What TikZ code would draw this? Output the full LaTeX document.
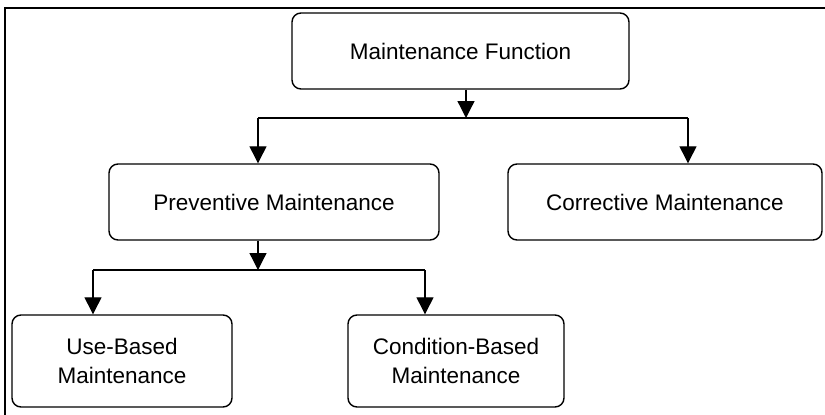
\documentclass[tikz,border=0pt]{standalone}
\usepackage{fontspec}
\setmainfont{Liberation Sans}
\usetikzlibrary{arrows.meta}

\begin{document}
\begin{tikzpicture}[x=1pt,y=-1pt,
  box/.style={draw,line width=1.4pt,rounded corners=9pt,align=center,inner sep=0pt,
    font=\fontsize{22.5}{29}\selectfont},
  arr/.style={line width=1.3pt,-{Triangle[length=17pt,width=17pt]}}]
  \useasboundingbox (0,0) rectangle (825,415);
  \draw[line width=2pt] (5,415) -- (5,8) -- (825,8);
  \node[box,minimum width=337pt,minimum height=76pt] (func) at (460.5,51) {Maintenance Function};
  \node[box,minimum width=330pt,minimum height=76pt] (prev) at (274,202) {Preventive Maintenance};
  \node[box,minimum width=314pt,minimum height=76pt] (corr) at (665,202) {Corrective Maintenance};
  \node[box,minimum width=220pt,minimum height=92pt] (use) at (122,361) {Use-Based\\Maintenance};
  \node[box,minimum width=216pt,minimum height=92pt] (cond) at (456,361) {Condition-Based\\Maintenance};
  \coordinate (split1) at (466,118);
  \coordinate (l1) at (258,118);
  \coordinate (r1) at (688,118);
  \coordinate (split2) at (258,270);
  \coordinate (l2) at (93,270);
  \coordinate (r2) at (425,270);
  \draw[line width=1.3pt] (l1) -- (r1);
  \draw[line width=1.3pt] (l2) -- (r2);
  \draw[arr] (func.south -| split1) -- (split1);
  \draw[arr] (l1) -- (prev.north -| l1);
  \draw[arr] (r1) -- (corr.north -| r1);
  \draw[arr] (prev.south -| split2) -- (split2);
  \draw[arr] (l2) -- (use.north -| l2);
  \draw[arr] (r2) -- (cond.north -| r2);
\end{tikzpicture}
\end{document}
